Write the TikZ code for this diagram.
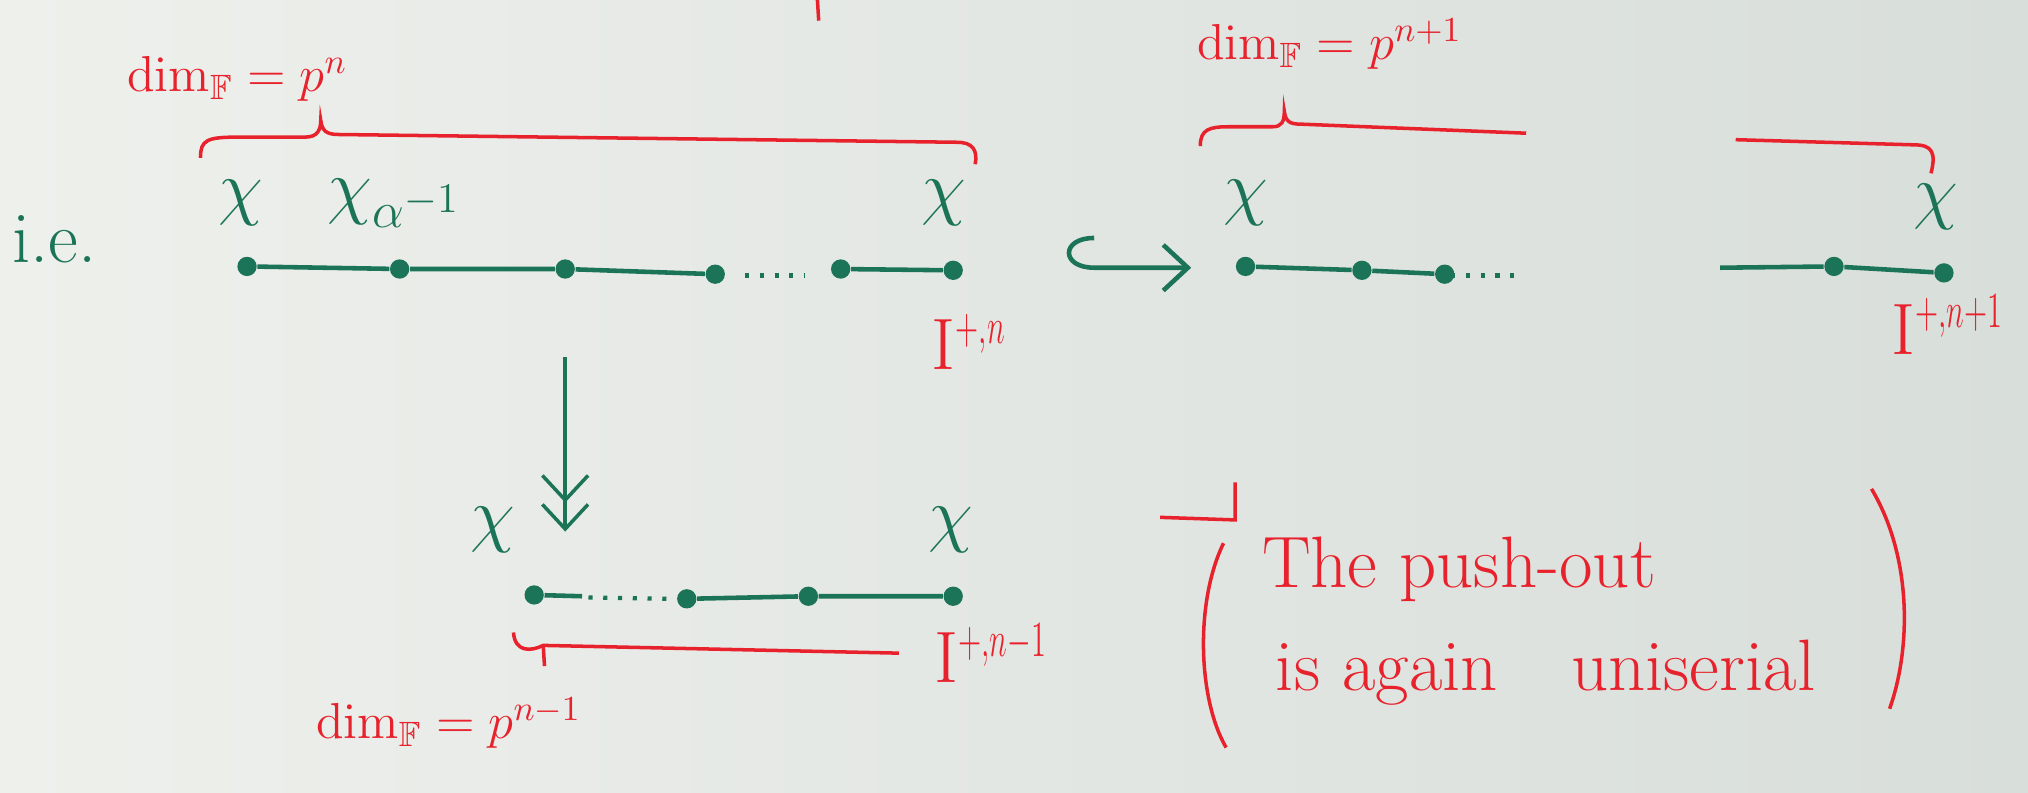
\documentclass[tikz,border=0pt]{standalone}
\usepackage{amsmath,amssymb}
\usetikzlibrary{arrows.meta}
\definecolor{boardgreen}{RGB}{28,116,88}
\definecolor{boardred}{RGB}{232,34,44}
\definecolor{boardlight}{RGB}{238,240,236}
\definecolor{boarddark}{RGB}{216,222,218}
\newcommand{\Iplus}[1]{\mathrm{I}^{\scalebox{0.6}[1]{$\scriptstyle #1$}}}
\tikzset{
  vtx/.style={circle, fill=boardgreen, inner sep=0pt, minimum size=5.5pt},
  chain/.style={boardgreen, line width=1.3pt},
  gap/.style={boardgreen, line width=1.2pt, dash pattern=on 1.2pt off 3pt},
  ink/.style={boardred, line width=1pt},
  chi/.style={text=boardgreen, font=\huge, inner sep=0pt},
  note/.style={text=boardred, inner sep=0pt},
}
\begin{document}
\begin{tikzpicture}[x=0.012934cm, y=-0.012934cm, >={Straight Barb[length=7pt,width=13pt]}]
  \shade[left color=boardlight, right color=boarddark] (0,0) rectangle (1568,613);
  \useasboundingbox (0,0) rectangle (1568,613);

  % top-left chain, length p^n
  \node[vtx] (a1) at (191,206) {};
  \node[vtx] (a2) at (309,208) {};
  \node[vtx] (a3) at (437,208) {};
  \node[vtx] (a4) at (553,212) {};
  \node[vtx] (a5) at (650,208) {};
  \node[vtx] (a6) at (737,209) {};
  \coordinate (a4') at (576,213);
  \coordinate (a5') at (622,213);
  \draw[chain] (a1) -- (a2) -- (a3) -- (a4);
  \draw[gap] (a4') -- (a5');
  \draw[chain] (a5) -- (a6);

  \node[chi] (ie) at (42,185) {i.e.};
  \node[chi] (xa1) at (186,157) {$\chi$};
  \node[chi] (xa2) at (305,157) {$\chi_{\alpha^{-1}}$};
  \node[chi] (xa6) at (730,157) {$\chi$};
  \node[note, font=\huge, anchor=base west] (In) at (720,286) {$\Iplus{+,n}$};
  \node[note, font=\Large, anchor=base west] (dimA) at (98,71) {$\dim_{\mathbb{F}} = p^{n}$};
  \draw[ink] (155,122) .. controls (155,108) and (160,106) .. (185,106) -- (236,106)
    .. controls (245,106) and (248,101) .. (248,93) .. controls (249,101) and (252,104) .. (262,104)
    -- (740,110) .. controls (752,110) and (756,116) .. (754,127);
  \draw[ink] (632,0) -- (633,16);

  % hook arrow
  \coordinate (h0) at (846,184);
  \coordinate (h1) at (921,207);
  \draw[chain, ->] (h0) .. controls (820,184) and (820,207) .. (846,207) -- (h1);

  % top-right chain, length p^{n+1}
  \node[vtx] (b1) at (963,206) {};
  \node[vtx] (b2) at (1053,209) {};
  \node[vtx] (b3) at (1117,212) {};
  \node[vtx] (b4) at (1418,206) {};
  \node[vtx] (b5) at (1503,211) {};
  \coordinate (b3') at (1122,213);
  \coordinate (b3'') at (1172,213);
  \coordinate (b4') at (1330,207);
  \draw[chain] (b1) -- (b2) -- (b3);
  \draw[gap] (b3') -- (b3'');
  \draw[chain] (b4') -- (b4) -- (b5);

  \node[chi] (xb1) at (963,157) {$\chi$};
  \node[chi] (xb5) at (1497,160) {$\chi$};
  \node[note, font=\huge, anchor=base west] (Inp) at (1462,274) {$\Iplus{+,n+1}$};
  \node[note, font=\Large, anchor=base west] (dimB) at (925,46) {$\dim_{\mathbb{F}} = p^{n+1}$};
  \draw[ink] (928,113) .. controls (928,100) and (935,98) .. (950,98) -- (984,98)
    .. controls (991,98) and (993,94) .. (993,86) .. controls (994,94) and (997,96) .. (1006,96)
    -- (1180,103);
  \draw[ink] (1342,108) -- (1480,112) .. controls (1494,112) and (1497,118) .. (1493,134);

  % surjection down
  \coordinate (v0) at (437,276);
  \coordinate (v1) at (437,411);
  \draw[chain, line width=1pt, ->>] (v0) -- (v1);

  % bottom chain, length p^{n-1}
  \node[vtx] (c1) at (413,460) {};
  \node[vtx] (c2) at (531,463) {};
  \node[vtx] (c3) at (625,461) {};
  \node[vtx] (c4) at (737,461) {};
  \coordinate (c1') at (450,461);
  \coordinate (c1'') at (455,462);
  \coordinate (c2') at (522,463);
  \draw[chain] (c1) -- (c1');
  \draw[gap] (c1'') -- (c2');
  \draw[chain] (c2) -- (c3) -- (c4);

  \node[chi] (xc1) at (381,410) {$\chi$};
  \node[chi] (xc4) at (735,410) {$\chi$};
  \node[note, font=\huge, anchor=base west] (Inm) at (722,528) {$\Iplus{+,n-1}$};
  \node[note, font=\Large, anchor=base west] (dimC) at (244,571) {$\dim_{\mathbb{F}} = p^{n-1}$};
  \draw[ink] (397,489) .. controls (398,504) and (410,504) .. (420,499) -- (695,505);
  \draw[ink] (420,499) -- (421,515);

  % push-out remark
  \draw[ink] (897,400) -- (955,402) -- (955,373);
  \draw[ink] (946,420) .. controls (924,465) and (926,540) .. (948,578);
  \draw[ink] (1447,378) .. controls (1478,430) and (1478,500) .. (1461,548);
  \node[note, font=\huge] (po1) at (1128,440) {The push-out};
  \node[note, font=\huge] (po2) at (1195,520) {is again\hspace{0.7em} uniserial};
\end{tikzpicture}
\end{document}
